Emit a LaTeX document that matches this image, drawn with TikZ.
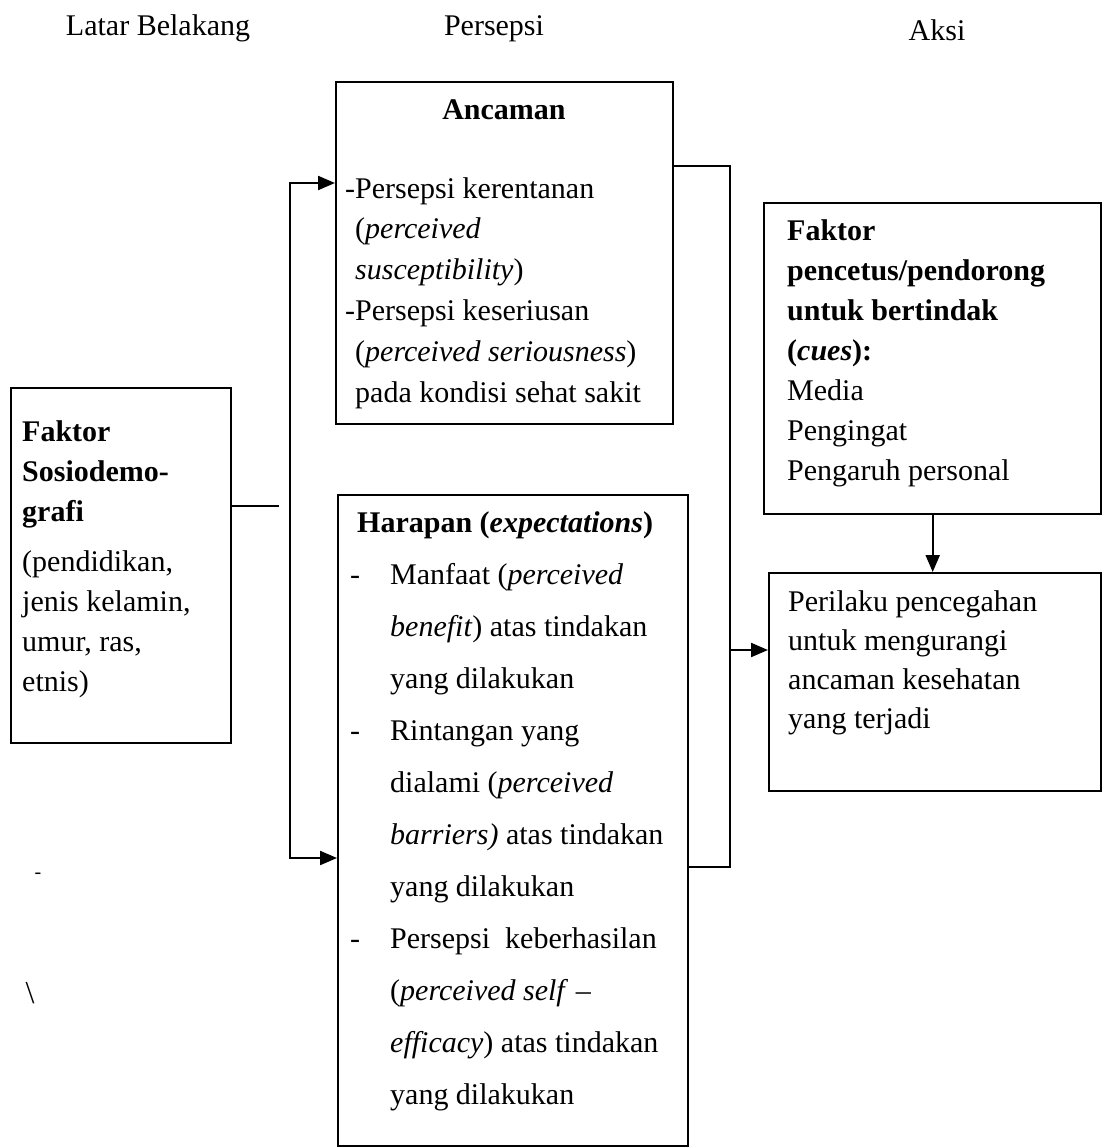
\documentclass[tikz,border=0pt]{standalone}
\usepackage{fontspec}
\setmainfont{Liberation Serif}
\usetikzlibrary{arrows.meta}
\begin{document}
\begin{tikzpicture}[x=1pt,y=-1pt,
  box/.style={draw, line width=2.4pt, inner sep=0pt, anchor=north west},
  txt/.style={anchor=base west, inner sep=0pt},
  conn/.style={line width=2.2pt},
  arr/.style={conn, -{Triangle[length=17pt,width=14pt]}},
  biarr/.style={conn, {Triangle[length=17pt,width=14pt]}-{Triangle[length=17pt,width=14pt]}},
  hdr/.style={anchor=base, inner sep=0pt, font=\fontsize{30}{36}\selectfont}]
\useasboundingbox (0,0) rectangle (1105,1148);
\fill[white] (0,0) rectangle (1105,1148);

% headers
\node[hdr] (h1) at (158,36) {Latar Belakang};
\node[hdr] (h2) at (494,36) {Persepsi};
\node[hdr] (h3) at (937,41) {Aksi};

% boxes
\node[box, minimum width=220pt, minimum height=355pt] (fak) at (10,387) {};
\node[box, minimum width=337pt, minimum height=342pt] (anc) at (335,81) {};
\node[box, minimum width=350pt, minimum height=651pt] (har) at (337,494) {};
\node[box, minimum width=337pt, minimum height=311pt] (cue) at (763,202) {};
\node[box, minimum width=332pt, minimum height=218pt] (per) at (768,572) {};

% texts
\node[txt] (fakT) at (22,441) {\parbox[t]{210pt}{\raggedright\fontsize{30}{40}\selectfont
\textbf{Faktor}\\
\textbf{Sosiodemo-}\\
\textbf{grafi}\\[10pt]
(pendidikan,\\
jenis kelamin,\\
umur, ras,\\
etnis)}};

\node[anchor=base, inner sep=0pt, font=\fontsize{30}{40}\selectfont\bfseries] (ancH) at (504,119) {Ancaman};
\node[txt] (ancT) at (345,198) {\parbox[t]{330pt}{\raggedright\fontsize{30}{40.8}\selectfont
-Persepsi kerentanan\\
\hphantom{-}(\textit{perceived}\\
\hphantom{-}\textit{susceptibility})\\
-Persepsi keseriusan\\
\hphantom{-}(\textit{perceived seriousness})\\
\hphantom{-}pada kondisi sehat sakit}};

\node[txt] (harT) at (350,532) {\parbox[t]{340pt}{\raggedright\fontsize{30}{52}\selectfont
\hspace*{7pt}\textbf{Harapan (\textit{expectations})}\\
\makebox[40pt][l]{-}Manfaat (\textit{perceived}\\
\hspace*{40pt}\textit{benefit}) atas tindakan\\
\hspace*{40pt}yang dilakukan\\
\makebox[40pt][l]{-}Rintangan yang\\
\hspace*{40pt}dialami (\textit{perceived}\\
\hspace*{40pt}\textit{barriers)} atas tindakan\\
\hspace*{40pt}yang dilakukan\\
\makebox[40pt][l]{-}Persepsi\ \ keberhasilan\\
\hspace*{40pt}(\textit{perceived self} –\\
\hspace*{40pt}\textit{efficacy}) atas tindakan\\
\hspace*{40pt}yang dilakukan}};

\node[txt] (cueT) at (787,240) {\parbox[t]{310pt}{\raggedright\fontsize{30}{40}\selectfont
\textbf{Faktor}\\
\textbf{pencetus/pendorong}\\
\textbf{untuk bertindak}\\
\textbf{(\textit{cues}):}\\
Media\\
Pengingat\\
Pengaruh personal}};

\node[txt] (perT) at (788,611) {\parbox[t]{310pt}{\raggedright\fontsize{30}{39}\selectfont
Perilaku pencegahan\\
untuk mengurangi\\
ancaman kesehatan\\
yang terjadi}};

% stray scan marks
\node[inner sep=0pt, font=\fontsize{32}{36}\selectfont] (mk1) at (30,993) {\textbackslash};
\node[inner sep=0pt, font=\fontsize{20}{24}\selectfont] (mk2) at (38,876) {-};

% connectors
\coordinate (jl) at (279,506);
\coordinate (jt) at (290,183);
\coordinate (jb) at (290,858);
\coordinate (rt) at (730,166);
\coordinate (rb) at (730,867);
\coordinate (rm) at (730,650);

\draw[conn] (fak.east |- jl) -- (jl);
\draw[biarr] (anc.west |- jt) -- (jt) -- (jb) -- (har.west |- jb);
\draw[conn] (anc.east |- rt) -- (rt) -- (rb) -- (har.east |- rb);
\draw[arr] (rm) -- (per.west |- rm);
\draw[arr] (cue.south) -- (cue.south |- per.north);
\end{tikzpicture}
\end{document}
